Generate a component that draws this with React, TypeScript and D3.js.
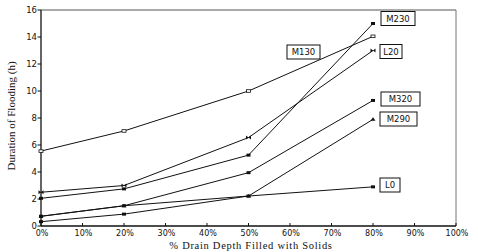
import React from "react";
import * as d3 from "d3";

const xValues = [0, 20, 50, 80];
const seriesNames = ["M130", "M230", "L20", "M320", "M290", "L0"];
const m130 = [5.55, 7.04, 10.0, 14.05];
const m230 = [2.05, 2.75, 5.25, 15.0];
const l20 = [2.5, 3.0, 6.55, 13.0];
const m320 = [0.72, 1.5, 3.95, 9.3];
const m290 = [0.72, 1.5, 2.22, 7.9];
const l0 = [0.32, 0.88, 2.22, 2.9];
const yTicks = [0, 2, 4, 6, 8, 10, 12, 14, 16];
const xTicks = [0, 10, 20, 30, 40, 50, 60, 70, 80, 90, 100];

const W = 478, H = 252;
const x = d3.scaleLinear().domain([0, 100]).range([41, 456]);
const y = d3.scaleLinear().domain([0, 16]).range([226, 10]);

const allSeries = [m130, m230, l20, m320, m290, l0];
const markerKinds = ["open", "filled", "bowtie", "filled", "tri", "filled"];
// label box layout: [boxLeft, boxCenterY, width]
const labelLayout: Record<string, [number, number, number]> = {
  M130: [287, 52, 33],
  M230: [381, 18.5, 34],
  L20: [380, 51.5, 22],
  M320: [381, 99, 39],
  M290: [380, 119, 37],
  L0: [380, 185, 20],
};

function Marker({ kind, cx, cy }: { kind: string; cx: number; cy: number }) {
  if (kind === "open")
    return <rect x={cx - 2} y={cy - 1.3} width={4} height={2.6} fill="white" stroke="#111" strokeWidth={0.8} />;
  if (kind === "bowtie")
    return <path d={`M${cx - 2.5},${cy - 2}L${cx + 2.5},${cy + 2}L${cx + 2.5},${cy - 2}L${cx - 2.5},${cy + 2}Z`} fill="#111" />;
  if (kind === "tri")
    return <path d={`M${cx - 2.5},${cy + 1.5}L${cx},${cy - 2}L${cx + 2.5},${cy + 1.5}Z`} fill="#111" />;
  return <rect x={cx - 2} y={cy - 1.5} width={4} height={3} fill="#111" />;
}

export default function App() {
  const line = d3
    .line<number>()
    .x((_, i) => x(xValues[i]))
    .y((d) => y(d));
  const tickFont = "'DejaVu Sans', sans-serif";
  return (
    <svg width={W} height={H} style={{ position: "absolute", left: 0, top: 0, background: "white" }}>
      <rect x={0} y={0} width={W} height={H} fill="white" />
      {/* frame */}
      <line x1={x(0)} x2={x(100)} y1={y(16)} y2={y(16)} stroke="#555" strokeWidth={1} />
      <line x1={x(100)} x2={x(100)} y1={y(16)} y2={y(0)} stroke="#777" strokeWidth={1} />
      <line x1={x(0)} x2={x(0)} y1={y(16)} y2={y(0)} stroke="#111" strokeWidth={1.3} />
      <line x1={x(0)} x2={x(100)} y1={y(0)} y2={y(0)} stroke="#111" strokeWidth={1.3} />
      {yTicks.map((t) => (
        <g key={"y" + t}>
          <line x1={x(0) - 3.5} x2={x(0)} y1={y(t)} y2={y(t)} stroke="#111" strokeWidth={1} />
          <text x={x(0) - 4} y={y(t) + 3} textAnchor="end" fontSize={8.5} fontFamily={tickFont} fill="#111">
            {t}
          </text>
        </g>
      ))}
      {xTicks.map((t) => (
        <g key={"x" + t}>
          <line x1={x(t)} x2={x(t)} y1={y(0)} y2={y(0) - 3} stroke="#111" strokeWidth={1} />
          <text x={x(t) + 1} y={236} textAnchor="middle" fontSize={8} fontFamily={tickFont} fill="#111">
            {t + "%"}
          </text>
        </g>
      ))}
      <text x={251} y={248.5} textAnchor="middle" fontSize={10.5} letterSpacing={0.7} fontFamily="'Liberation Serif', serif" fill="#111">
        % Drain Depth Filled with Solids
      </text>
      <text
        transform={`translate(15,116) rotate(-90)`}
        textAnchor="middle"
        fontSize={11}
        fontFamily="'Liberation Serif', serif"
        fill="#111"
      >
        Duration of Flooding (h)
      </text>
      {allSeries.map((s, i) => (
        <g key={seriesNames[i]}>
          <path d={line(s) || ""} fill="none" stroke="#111" strokeWidth={1} />
          {s.map((v, j) => (
            <Marker key={j} kind={markerKinds[i]} cx={x(xValues[j])} cy={y(v)} />
          ))}
        </g>
      ))}
      {seriesNames.map((n) => {
        const [bx, cy, bw] = labelLayout[n];
        return (
          <g key={"lab" + n}>
            <rect x={bx} y={cy - 7} width={bw} height={14} fill="white" stroke="#111" strokeWidth={1} />
            <text x={bx + bw / 2} y={cy + 3.2} textAnchor="middle" fontSize={8.5} fontFamily={tickFont} fill="#111">
              {n}
            </text>
          </g>
        );
      })}
    </svg>
  );
}
